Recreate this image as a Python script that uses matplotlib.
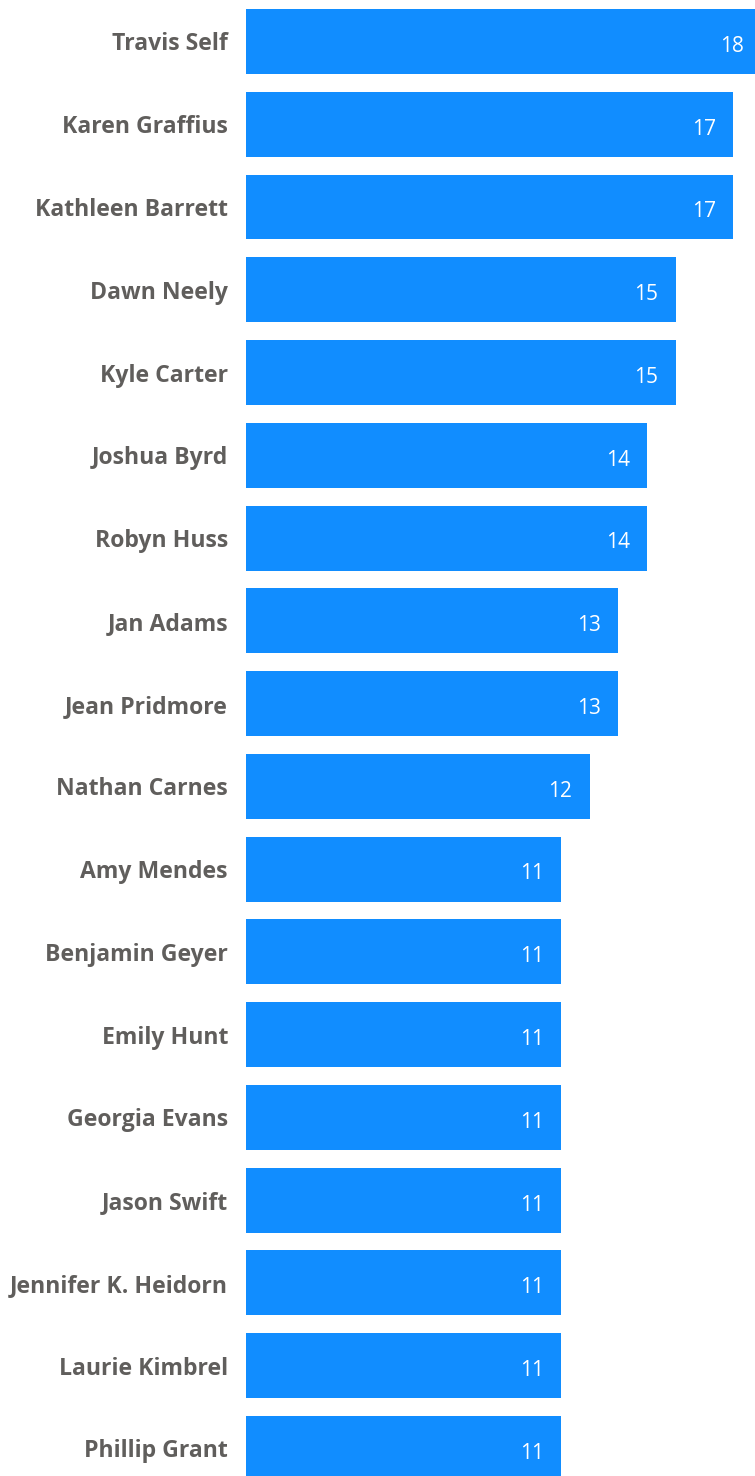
import matplotlib.pyplot as plt

# Chart values
names = ["Travis Self", "Karen Graffius", "Kathleen Barrett", "Dawn Neely",
         "Kyle Carter", "Joshua Byrd", "Robyn Huss", "Jan Adams",
         "Jean Pridmore", "Nathan Carnes", "Amy Mendes", "Benjamin Geyer",
         "Emily Hunt", "Georgia Evans", "Jason Swift", "Jennifer K. Heidorn",
         "Laurie Kimbrel", "Phillip Grant"]
counts = [18, 17, 17, 15, 15, 14, 14, 13, 13, 12, 11, 11, 11, 11, 11, 11, 11, 11]

bar_color = "#118DFF"
label_color = "#605E5C"

fig = plt.figure(figsize=(7.55, 14.76), dpi=100)
ax = fig.add_axes([246 / 755, 0, 1 - 246 / 755, 1])

ypos = list(range(len(names)))
bars = ax.barh(ypos, counts, height=0.785, color=bar_color)

ax.set_xlim(0, 17.77)
ax.set_ylim(17.333, -0.501)

ax.set_yticks(ypos)
ax.set_yticklabels(names, fontfamily="Open Sans", fontweight="bold",
                   fontsize=16.6, color=label_color)
ax.tick_params(axis="y", length=0, pad=13)
ax.set_xticks([])
for s in ax.spines.values():
    s.set_visible(False)

# value labels inside the bar end
for y, v in zip(ypos, counts):
    ax.annotate(str(v), xy=(v, y), xytext=(-12.5, -3.5), textcoords="offset points",
                ha="right", va="center", color="white", fontsize=15,
                fontfamily="Open Sans", annotation_clip=False)

fig.savefig("out.png", dpi=100)
